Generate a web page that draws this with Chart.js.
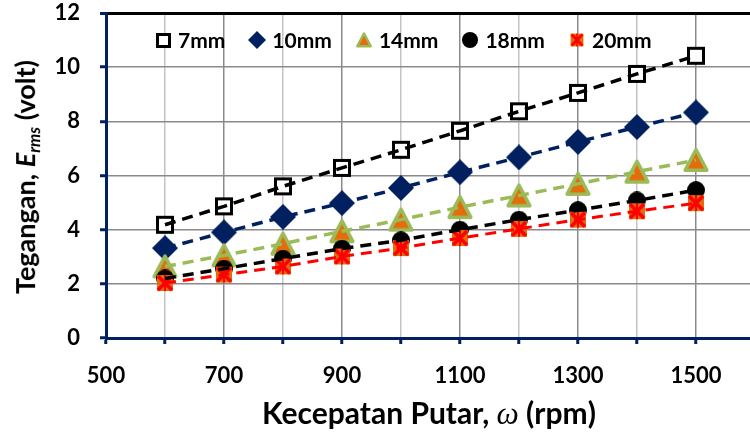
<!DOCTYPE html>
<html>
<head>
<meta charset="utf-8">
<script src="https://cdn.jsdelivr.net/npm/chart.js@4.4.1/dist/chart.umd.min.js"></script>
<style>
  html, body { margin: 0; padding: 0; background: #fff; }
  #wrap { position: relative; width: 750px; height: 437px; overflow: hidden; }
  #chart { position: absolute; left: 0; top: 0; }
  .ttl { position: absolute; font-family: Lato, sans-serif; font-weight: bold; color: #000; white-space: nowrap; line-height: 1; }
  .ttl sub { font-size: 0.62em; vertical-align: -0.3em; }
  #ytitle { left: 27px; top: 177px; font-size: 27px; transform: translate(-50%, -50%) rotate(-90deg); }
  #xtitle { left: 429px; top: 413px; font-size: 30px; transform: translate(-50%, -50%); }
  .omega { font-family: 'Liberation Serif', serif; font-style: italic; font-weight: normal; font-size: 1.05em; }
</style>
</head>
<body>
<div id="wrap">
  <!-- plot runs to 1600 rpm, a few px past the right edge as in the original -->
  <canvas id="chart" width="755" height="437"></canvas>
  <div id="ytitle" class="ttl">Tegangan, <i>E<sub>rms</sub></i> (volt)</div>
  <div id="xtitle" class="ttl">Kecepatan Putar, <span class="omega">ω</span> (rpm)</div>
</div>
<script>
  // ── Data ─────────────────────────────────────────────────────
  const rpm = [600, 700, 800, 900, 1000, 1100, 1200, 1300, 1400, 1500];
  const labels = ['7mm', '10mm', '14mm', '18mm', '20mm'];
  const v7  = [4.18, 4.86, 5.60, 6.28, 6.95, 7.65, 8.37, 9.05, 9.75, 10.42];
  const v10 = [3.32, 3.90, 4.47, 4.98, 5.54, 6.12, 6.67, 7.24, 7.79, 8.33];
  const v14 = [2.64, 3.05, 3.48, 3.94, 4.37, 4.83, 5.26, 5.69, 6.14, 6.57];
  const v18 = [2.20, 2.56, 2.93, 3.30, 3.61, 4.00, 4.37, 4.72, 5.08, 5.46];
  const v20 = [2.03, 2.34, 2.64, 3.01, 3.32, 3.69, 4.03, 4.37, 4.68, 4.98];
  const xTickLabels = [500, 700, 900, 1100, 1300, 1500];
  const yTickLabels = [0, 2, 4, 6, 8, 10, 12];

  const NAVY = '#002060', ORANGE = '#E46C0A', GREEN = '#9BBB59', RED = '#FF0000';
  const FONT = 'Lato';

  // ── Markers (canvas point styles) ────────────────────────────
  function marker(size, draw) {
    const c = document.createElement('canvas');
    c.width = c.height = size;
    draw(c.getContext('2d'), size);
    return c;
  }
  const square = (s) => marker(s, (g) => {
    const a = 2.5, w = s - 5;
    g.fillStyle = '#fff'; g.fillRect(a, a, w, w);
    g.strokeStyle = '#000'; g.lineWidth = 3; g.strokeRect(a, a, w, w);
  });
  const diamond = (s) => marker(s, (g) => {
    const h = s / 2;
    g.fillStyle = NAVY;
    g.beginPath(); g.moveTo(h, 0); g.lineTo(s, h); g.lineTo(h, s); g.lineTo(0, h); g.closePath(); g.fill();
  });
  const triangle = (s) => marker(s, (g) => {
    const lw = s > 20 ? 3.5 : 2.5;
    g.beginPath(); g.moveTo(s / 2, lw); g.lineTo(s - lw * 0.9, s - lw * 1.1); g.lineTo(lw * 0.9, s - lw * 1.1); g.closePath();
    g.fillStyle = ORANGE; g.fill();
    g.strokeStyle = GREEN; g.lineWidth = lw; g.lineJoin = 'round'; g.stroke();
  });
  const circle = (s) => marker(s, (g) => {
    g.fillStyle = '#000'; g.beginPath(); g.arc(s / 2, s / 2, s / 2, 0, Math.PI * 2); g.fill();
  });
  const star = (s) => marker(s, (g) => {
    const a = s * 0.1, b = s - a, m = s / 2;
    g.fillStyle = ORANGE; g.fillRect(a, a, b - a, b - a);
    g.strokeStyle = RED;
    g.lineWidth = s * 0.18;
    g.beginPath(); g.moveTo(a + 1, a + 1); g.lineTo(b - 1, b - 1); g.moveTo(b - 1, a + 1); g.lineTo(a + 1, b - 1); g.stroke();
    g.lineWidth = s * 0.1;
    g.beginPath(); g.moveTo(m, a); g.lineTo(m, b); g.stroke();
  });

  const series = [v7, v10, v14, v18, v20];
  const markers = [square(20), diamond(26), triangle(28), circle(18), star(20)];
  const legendMarkers = [square(17), diamond(18), triangle(18), circle(16), star(16)];
  const lineColors = ['#000', NAVY, GREEN, '#000', RED];
  const pts = (vals) => rpm.map((x, i) => ({ x, y: vals[i] }));

  const datasets = [];
  series.forEach((vals, i) => {
    datasets.push({
      label: labels[i], data: pts(vals), showLine: false,
      pointStyle: markers[i], pointRadius: 9, pointHoverRadius: 9,
      order: 10 - i
    });
  });
  series.forEach((vals, i) => {
    datasets.push({
      label: labels[i] + ' trend', data: pts(vals), showLine: true,
      borderColor: lineColors[i], borderWidth: i === 4 ? 3 : 3.5, borderDash: [11, 7],
      pointRadius: 0, pointHoverRadius: 0, fill: false, order: 1
    });
  });

  // ── Legend: one row inside the plot area, Excel style ─────────
  const insideLegend = {
    id: 'insideLegend',
    afterDraw(chart) {
      const ctx = chart.ctx;
      const y = chart.chartArea.top + 27;
      let x = 163;
      ctx.save();
      ctx.font = `bold 21px ${FONT}`;
      ctx.fillStyle = '#000';
      ctx.textBaseline = 'middle';
      labels.forEach((lab, i) => {
        const m = legendMarkers[i];
        ctx.drawImage(m, Math.round(x - m.width / 2), Math.round(y - m.height / 2));
        const tx = x + 15;
        ctx.fillText(lab, tx, y + 1);
        x = tx + ctx.measureText(lab).width + 32;
      });
      ctx.restore();
    }
  };

  const tickFont = { family: FONT, weight: 'bold', size: 22 };

  new Chart(document.getElementById('chart'), {
    type: 'scatter',
    data: { datasets },
    plugins: [insideLegend],
    options: {
      responsive: false, animation: false, events: [],
      layout: { autoPadding: false, padding: 0 },
      plugins: {
        tooltip: { enabled: false },
        legend: { display: false }
      },
      scales: {
        x: {
          type: 'linear', min: 500, max: 1600,
          afterFit: (s) => { s.height = 99; s.paddingRight = 0; s.paddingLeft = 0; },
          ticks: {
            stepSize: 100, autoSkip: false, maxRotation: 0, color: '#000', font: tickFont, padding: 19,
            callback: (v) => xTickLabels.includes(Math.round(v)) ? String(Math.round(v)) : ''
          },
          grid: {
            color: (c) => c.tick.value > 1500 ? 'rgba(0,0,0,0)' : ((Math.round(c.tick.value) - 500) % 200 === 0 ? '#8a8a8a' : '#c4c4c4'),
            lineWidth: 1.5, tickColor: NAVY, tickLength: 6, tickWidth: 3
          },
          border: { color: NAVY, width: 3 }
        },
        y: {
          min: 0, max: 12,
          afterFit: (s) => { s.width = 106; s.paddingTop = 13; s.paddingBottom = 0; },
          ticks: {
            stepSize: 1, color: '#000', font: tickFont, padding: 20,
            callback: (v) => yTickLabels.includes(v) ? String(v) : ''
          },
          grid: {
            color: (c) => c.tick.value === 12 ? '#000' : (c.tick.value % 2 === 0 ? '#8a8a8a' : '#c4c4c4'),
            lineWidth: (c) => c.tick.value === 12 ? 3 : 1.5,
            tickColor: NAVY, tickLength: 6, tickWidth: 3
          },
          border: { color: NAVY, width: 3 }
        }
      }
    }
  });
</script>
</body>
</html>
